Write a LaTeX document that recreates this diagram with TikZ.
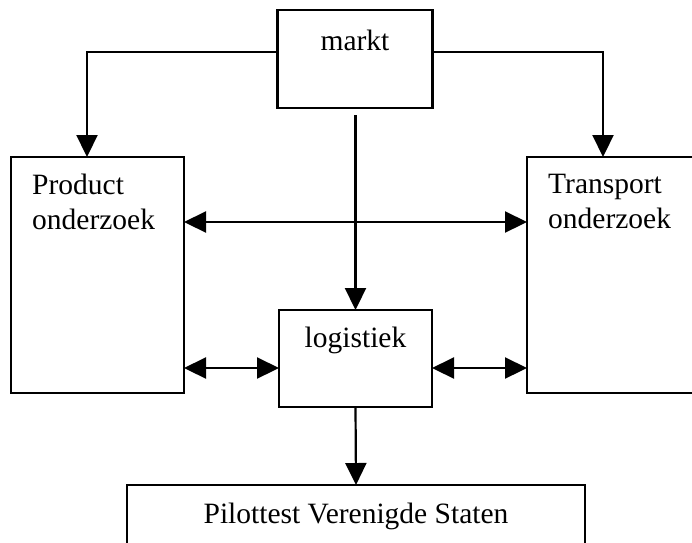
\documentclass[tikz,border=0pt]{standalone}
\usepackage{fontspec}
\setmainfont{Liberation Serif}
\usetikzlibrary{arrows.meta,calc,positioning}
\tikzset{
 flowchart/.style={font=\fontsize{29.5}{35}\selectfont,line join=miter,
   >={Triangle[length=22pt,width=21pt]}},
 blok/.style={draw,line width=2.4pt,inner sep=0pt,outer sep=0pt},
 intext/.style={inner sep=0pt,anchor=base},
 intextL/.style={inner sep=0pt,anchor=north west,align=left},
 arr/.style={draw,line width=2.2pt,->},
 darr/.style={draw,line width=2.2pt,<->}
}

\begin{document}
\begin{tikzpicture}[flowchart,x=1pt,y=-1pt]
 \useasboundingbox (0,0) rectangle (692,542);
 % blokken
 \node[blok,minimum width=155pt,minimum height=98pt,
   label={[intext,yshift=-40pt]north:markt}] (markt) at (355,59) {};
 \node[blok,minimum width=173pt,minimum height=236pt,
   label={[intextL,xshift=21pt,yshift=-17pt]north west:{Product\\onderzoek}}] (prod) at (97.5,275) {};
 \node[blok,minimum width=173pt,minimum height=236pt,
   label={[intextL,xshift=21pt,yshift=-17pt]north west:{Transport\\onderzoek}}] (trans) at (613.5,275) {};
 \node[blok,minimum width=153pt,minimum height=97pt,
   label={[intext,yshift=-37pt]north:logistiek}] (logi) at (355.5,358.5) {};
 \node[blok,minimum width=458pt,minimum height=80pt,
   label={[intext,yshift=-38pt]north:Pilottest Verenigde Staten}] (pil) at (356,525) {};
 \coordinate (toprow) at (0,222);
 \coordinate (midrow) at (0,368);
 % pijlen
 \draw[arr] ([yshift=7pt]markt.west) -| ([xshift=-10.5pt]prod.north);
 \draw[arr] ([yshift=7pt]markt.east) -| ([xshift=-10.5pt]trans.north);
 \draw[arr] ([yshift=-7pt]markt.south -| logi.north) -- (logi.north);
 \draw[darr] (prod.east |- toprow) -- (trans.west |- toprow);
 \draw[darr] (prod.east |- midrow) -- (logi.west |- midrow);
 \draw[darr] (logi.east |- midrow) -- (trans.west |- midrow);
 \draw[arr] (logi.south) -- (pil.north);
\end{tikzpicture}
\end{document}
